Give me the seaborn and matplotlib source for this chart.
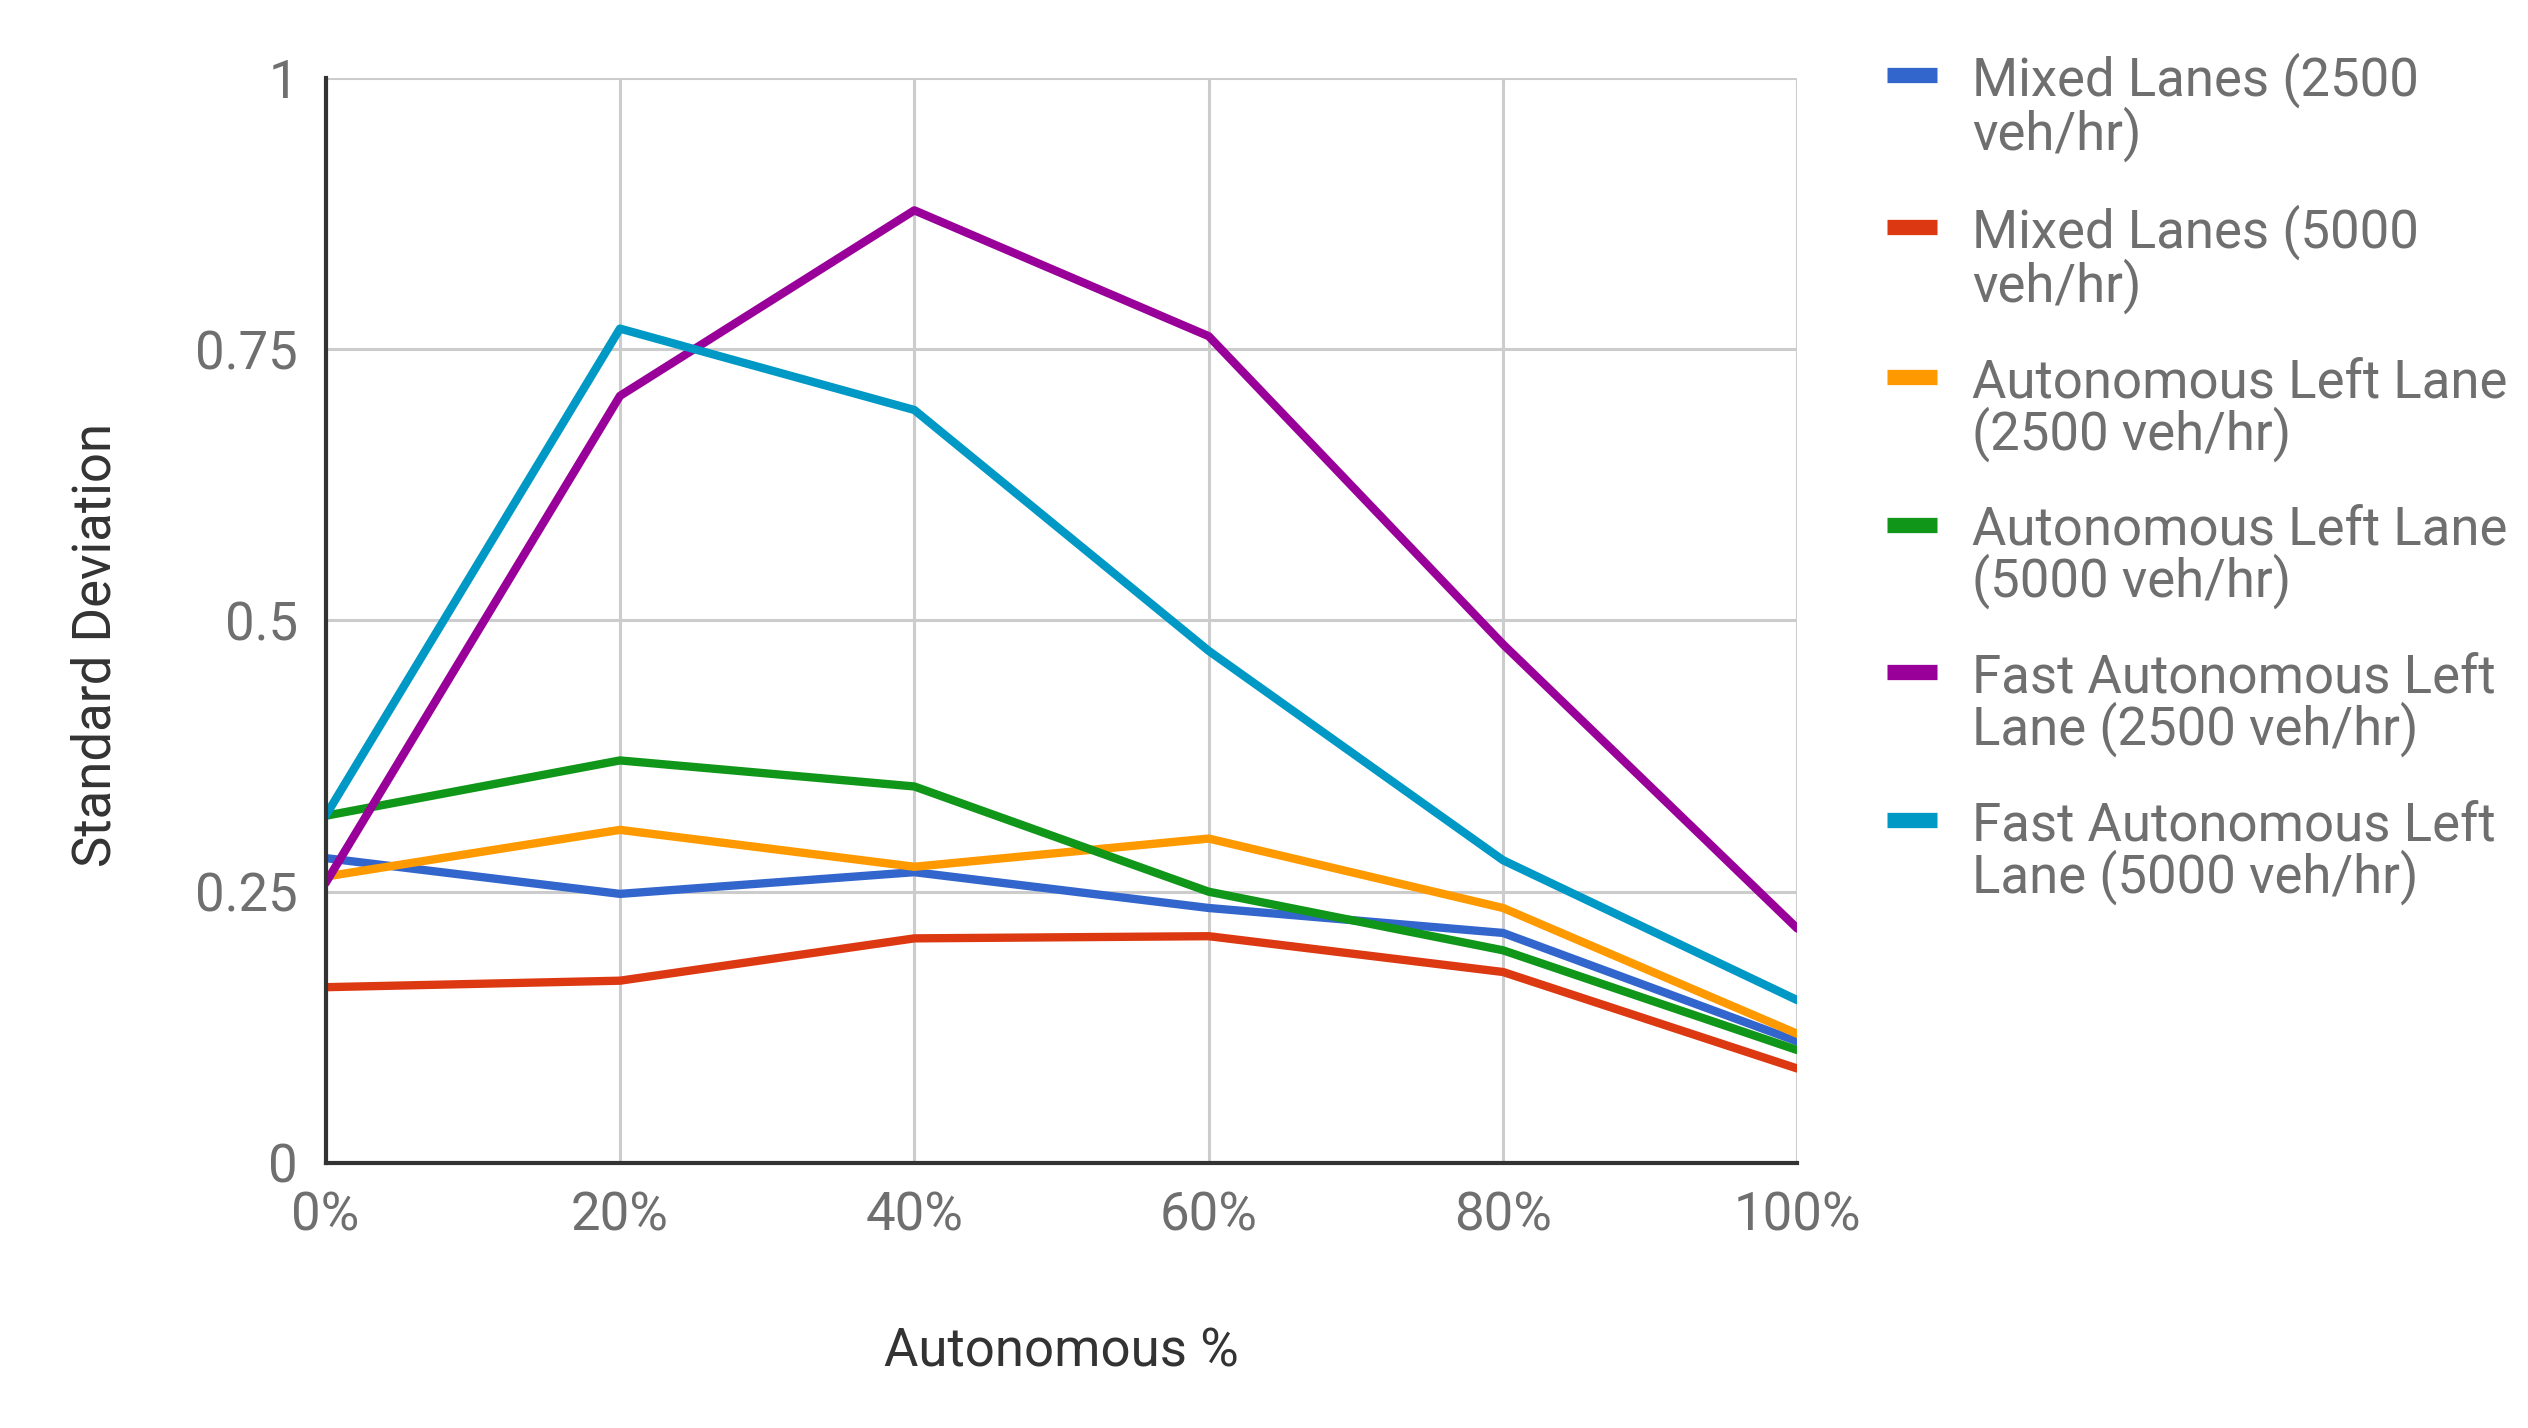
import matplotlib
matplotlib.use("Agg")
import matplotlib.pyplot as plt
from matplotlib.lines import Line2D
from matplotlib.legend_handler import HandlerLine2D
import seaborn as sns
import pandas as pd

# Share of autonomous vehicles (%)
autonomous_pct = [0, 20, 40, 60, 80, 100]
x_tick_labels = ["0%", "20%", "40%", "60%", "80%", "100%"]
y_ticks = [0, 0.25, 0.5, 0.75, 1]
y_tick_labels = ["0", "0.25", "0.5", "0.75", "1"]

series_names = [
    "Mixed Lanes (2500\nveh/hr)",
    "Mixed Lanes (5000\nveh/hr)",
    "Autonomous Left Lane\n(2500 veh/hr)",
    "Autonomous Left Lane\n(5000 veh/hr)",
    "Fast Autonomous Left\nLane (2500 veh/hr)",
    "Fast Autonomous Left\nLane (5000 veh/hr)",
]

# Standard deviation per scenario
mixed_2500 = [0.281, 0.248, 0.268, 0.235, 0.212, 0.112]
mixed_5000 = [0.162, 0.168, 0.207, 0.209, 0.176, 0.087]
auto_left_2500 = [0.264, 0.307, 0.273, 0.299, 0.235, 0.119]
auto_left_5000 = [0.320, 0.371, 0.347, 0.250, 0.196, 0.104]
fast_auto_2500 = [0.258, 0.707, 0.878, 0.762, 0.478, 0.216]
fast_auto_5000 = [0.320, 0.769, 0.694, 0.472, 0.279, 0.150]

colors = ["#3366cc", "#dc3912", "#ff9900", "#109618", "#990099", "#0099c6"]

all_series = [mixed_2500, mixed_5000, auto_left_2500, auto_left_5000,
              fast_auto_2500, fast_auto_5000]
df = pd.DataFrame({
    "Autonomous %": autonomous_pct * len(series_names),
    "Standard Deviation": [v for s in all_series for v in s],
    "Scenario": [n for n in series_names for _ in autonomous_pct],
})

sns.set_theme(style="white")
plt.rcParams["font.family"] = ["Roboto", "DejaVu Sans"]

FS = 38


class FirstLineHandler(HandlerLine2D):
    """Place the legend swatch beside the first line of a two-line label."""

    def create_artists(self, legend, orig_handle, xdescent, ydescent,
                       width, height, fontsize, trans):
        artists = super().create_artists(legend, orig_handle, xdescent,
                                         ydescent, width, height, fontsize,
                                         trans)
        for a in artists:
            a.set_ydata([y + 24.5 for y in a.get_ydata()])
        return artists


fig = plt.figure(figsize=(25.28, 14.28), dpi=100)
ax = fig.add_axes([0.1288, 0.1856, 0.5822, 0.7598])

sns.lineplot(data=df, x="Autonomous %", y="Standard Deviation", hue="Scenario",
             hue_order=series_names, palette=colors, linewidth=6,
             ax=ax, legend=False, sort=False)

ax.set_xlim(0, 100)
ax.set_ylim(0, 1)
ax.set_xticks(autonomous_pct)
ax.set_xticklabels(x_tick_labels)
ax.set_yticks(y_ticks)
ax.set_yticklabels(y_tick_labels)
ax.grid(True, color="#cccccc", linewidth=2.2)
ax.set_axisbelow(True)
for side in ["top", "right"]:
    ax.spines[side].set_visible(False)
for side in ["left", "bottom"]:
    ax.spines[side].set_color("#333333")
    ax.spines[side].set_linewidth(3)
    ax.spines[side].set_zorder(5)
ax.tick_params(axis="both", length=0, labelsize=FS, colors="#6f6f6f")
ax.tick_params(axis="x", pad=20)
ax.tick_params(axis="y", pad=20)

ax.set_xlabel("Autonomous %", fontsize=FS, color="#333333")
ax.set_ylabel("Standard Deviation", fontsize=FS, color="#333333")
ax.xaxis.set_label_coords(0.5, -0.151)
ax.yaxis.set_label_coords(-0.139, 0.477)

# Legend with short thick colour swatches
handles = [Line2D([0], [0], color=c, linewidth=11, solid_capstyle="butt")
           for c in colors]
leg = fig.legend(handles, series_names, loc="upper left",
                 bbox_to_anchor=(0.738, 0.978), frameon=False,
                 fontsize=FS, handlelength=0.95, handletextpad=0.67,
                 labelspacing=0.82, borderaxespad=0,
                 handler_map={Line2D: FirstLineHandler()})
for t in leg.get_texts():
    t.set_color("#6f6f6f")
    t.set_linespacing(0.95)

fig.savefig("out.png", dpi=100, facecolor="white")
